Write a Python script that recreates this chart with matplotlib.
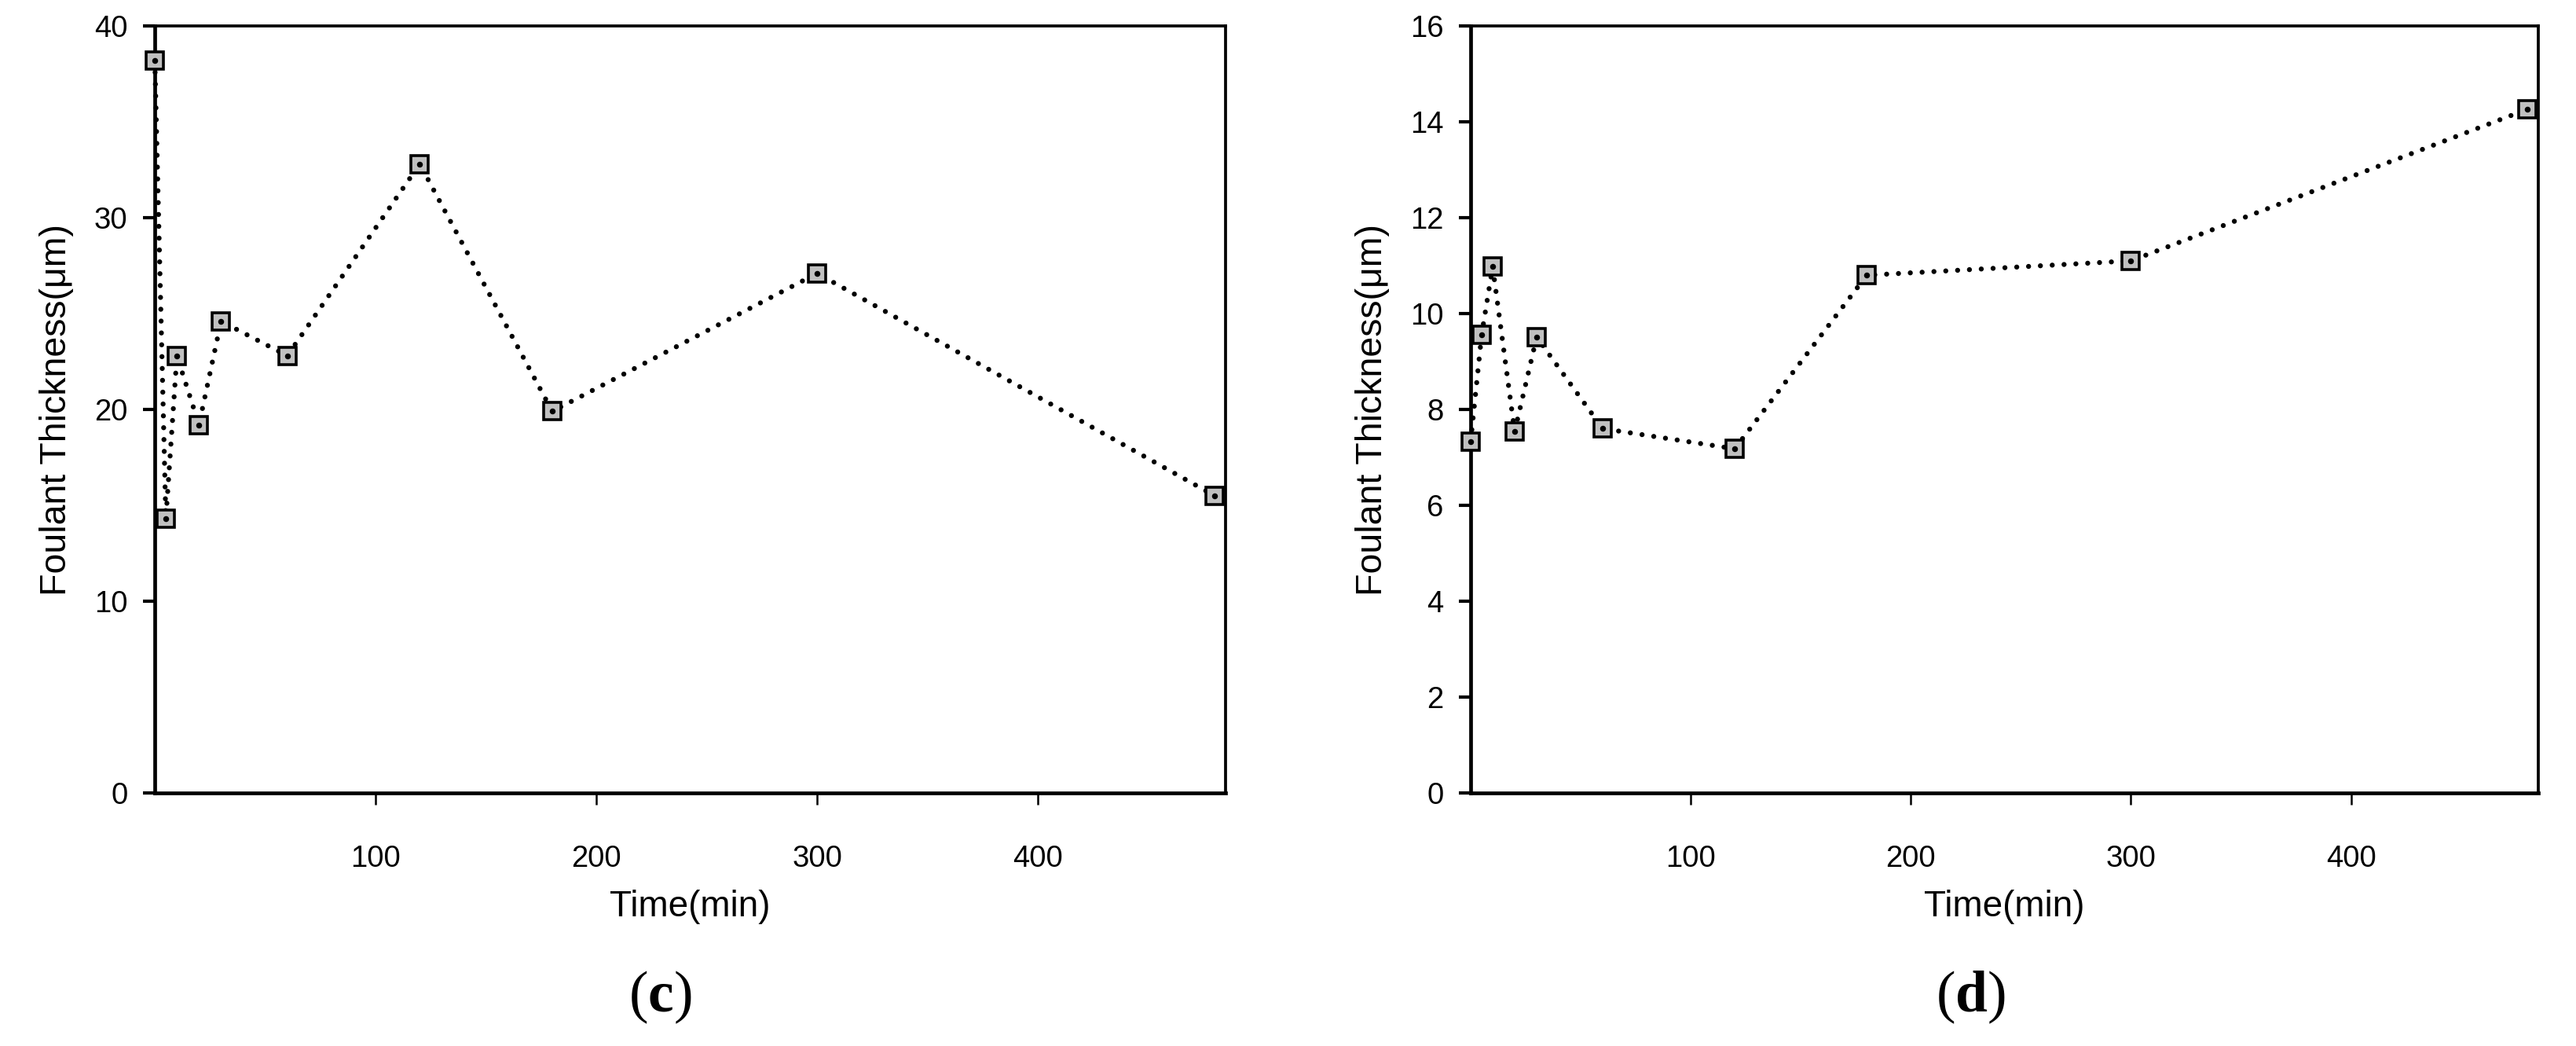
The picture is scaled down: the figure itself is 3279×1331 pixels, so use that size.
import numpy as np
import matplotlib
matplotlib.use('Agg')
import matplotlib.pyplot as plt

plt.rcParams['font.family'] = ['Liberation Sans', 'DejaVu Sans']
plt.rcParams['mathtext.fontset'] = 'custom'
plt.rcParams['mathtext.rm'] = 'Liberation Serif'
plt.rcParams['mathtext.bf'] = 'Liberation Serif:bold'

# data
time_min = [0, 5, 10, 20, 30, 60, 120, 180, 300, 480]
thickness_c = [38.2, 14.3, 22.8, 19.2, 24.6, 22.8, 32.8, 19.9, 27.1, 15.5]
thickness_d = [7.33, 9.56, 10.98, 7.54, 9.51, 7.60, 7.18, 10.8, 11.1, 14.26]

x_ticks = [100, 200, 300, 400]
y_ticks_c = [0, 10, 20, 30, 40]
y_ticks_d = [0, 2, 4, 6, 8, 10, 12, 14, 16]

x_label = 'Time(min)'
y_label = 'Foulant Thickness(μm)'
panel_c = r'($\mathbf{c}$)'
panel_d = r'($\mathbf{d}$)'


def draw_panel(ax, y, yticks, ymax):
    ax.plot(time_min, y, color='black', lw=4.6,
            linestyle=(0, (0.01, 2.35)), dash_capstyle='round',
            zorder=3, clip_on=False)
    ax.plot(time_min, y, linestyle='none', marker='s', ms=16.5,
            mfc='#c0c0c0', mec='black', mew=2.6, zorder=4, clip_on=False)
    ax.plot(time_min, y, linestyle='none', marker='o', ms=5.4,
            mfc='black', mec='black', mew=0, zorder=5, clip_on=False)

    ax.set_xlim(0, 485)
    ax.set_ylim(0, ymax)
    ax.set_xticks(x_ticks)
    ax.set_yticks(yticks)

    ax.spines['left'].set_linewidth(3.4)
    ax.spines['bottom'].set_linewidth(3.4)
    ax.spines['top'].set_linewidth(2.7)
    ax.spines['right'].set_linewidth(2.7)

    ax.tick_params(axis='x', direction='out', length=10.8, width=1.8,
                   pad=37, labelsize=27.5)
    ax.tick_params(axis='y', direction='out', length=10.8, width=3.0,
                   pad=14, labelsize=27.5)

    ax.set_xlabel(x_label, fontsize=33, labelpad=15)
    ax.set_ylabel(y_label, fontsize=33.5, labelpad=19)


fig = plt.figure(figsize=(32.79, 13.31), dpi=100)

ax1 = fig.add_axes([0.0601, 0.2419, 0.4157, 0.7333])
draw_panel(ax1, thickness_c, y_ticks_c, 40)

ax2 = fig.add_axes([0.5709, 0.2419, 0.4144, 0.7333])
draw_panel(ax2, thickness_d, y_ticks_d, 16)

fig.text(0.2562, 0.0331, panel_c, family='Liberation Serif', fontsize=53,
         ha='center', va='baseline')
fig.text(0.7649, 0.0331, panel_d, family='Liberation Serif', fontsize=53,
         ha='center', va='baseline')

fig.savefig('out.png', dpi=100, facecolor='white')
